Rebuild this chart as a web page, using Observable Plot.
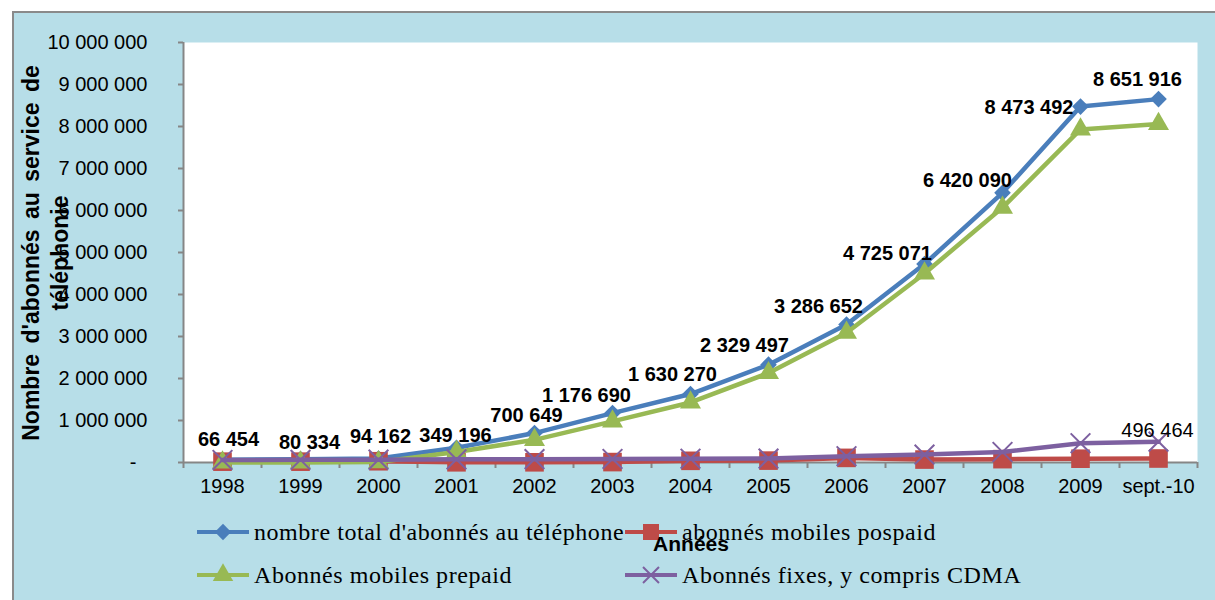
<!DOCTYPE html>
<html><head><meta charset="utf-8">
<script src="https://cdn.jsdelivr.net/npm/d3@7"></script>
<script src="https://cdn.jsdelivr.net/npm/@observablehq/plot@0.6"></script>
<style>
html,body{margin:0;padding:0;background:#fff;width:1215px;height:600px;overflow:hidden;font-family:"Liberation Sans",Arial,sans-serif;}
#frame{position:absolute;left:12px;top:11px;width:1215px;height:600px;background:#B7DEE8;border-left:2px solid #8a8a8a;border-top:2px solid #8a8a8a;}
#chart{position:absolute;left:0;top:0;}
#ytitle{position:absolute;left:-164px;top:224px;width:420px;height:58px;transform:rotate(-90deg);transform-origin:50% 50%;text-align:center;font-weight:bold;font-size:23px;line-height:28.5px;word-spacing:4px;color:#000;white-space:nowrap;}
#xtitle{position:absolute;left:631px;top:529px;width:120px;text-align:center;font-weight:bold;font-size:21px;line-height:30px;color:#000;}
.leg{position:absolute;height:30px;}
.leg svg{position:absolute;left:0;top:0;}
.leg span{position:absolute;top:0;line-height:30px;white-space:nowrap;font-family:"Liberation Serif","Times New Roman",serif;font-size:24px;letter-spacing:0.55px;color:#000;}
</style></head><body>
<div id="frame"></div>
<div id="chart"></div>
<div id="ytitle">Nombre d'abonnés au service de<br>téléphonie</div>
<div id="legend"></div>
<div id="xtitle">Années</div>
<script>
// ---- data ----
const categories = ["1998","1999","2000","2001","2002","2003","2004","2005","2006","2007","2008","2009","sept.-10"];
const totalSubscribers = [66454, 80334, 94162, 349196, 700649, 1176690, 1630270, 2329497, 3286652, 4725071, 6420090, 8473492, 8651916];
const postpaidMobile = [20000, 20000, 30000, 5000, 5000, 10000, 40000, 45000, 110000, 70000, 80000, 90000, 95000];
const prepaidMobile = [0, 0, 10000, 250000, 540000, 980000, 1430000, 2130000, 3090000, 4500000, 6070000, 7930000, 8060000];
const fixedInclCDMA = [60000, 65000, 68000, 75000, 80000, 85000, 90000, 95000, 150000, 190000, 250000, 460000, 496464];
const yTickValues = [0, 1000000, 2000000, 3000000, 4000000, 5000000, 6000000, 7000000, 8000000, 9000000, 10000000];
const seriesNames = ["nombre total d'abonnés au téléphone", "abonnés mobiles pospaid", "Abonnés mobiles prepaid", "Abonnés fixes, y compris CDMA"];

// ---- rendering ----
const fmt = d3.formatLocale({decimal: ",", thousands: " ", grouping: [3], currency: ["", ""]}).format(",d");
const rows = categories.map((c, i) => ({i, c, total: totalSubscribers[i], post: postpaidMobile[i], pre: prepaidMobile[i], fixed: fixedInclCDMA[i]}));
const W = 1215, H = 510, ML = 183, MR = 18, MT = 42, MB = 48;
const n = categories.length;
const xStep = (W - ML - MR) / n;
const yPerUnit = (H - MT - MB) / 10000000;
const gray = "#868686";
const C = {total: "#4A7EBB", post: "#BE4B48", pre: "#98B954", fixed: "#7D60A0"};
const bounds = d3.range(n + 1).map(k => k - 0.5);
// label nudges (pixels) for total-series labels, as placed in the original
const nudge = [[6,-20],[9,-17],[2,-22],[-1,-12],[-8,-17],[-26,-17],[-18,-19],[-24,-19],[-28,-18],[-37,-10],[-35,-12],[-7,1],[-21,-20]];

const labelMarks = rows.map((r, k) => Plot.text([r], {
  x: "i", y: "total", text: d => fmt(d.total), fontWeight: "bold", fontSize: 20,
  textAnchor: k === 11 ? "end" : "middle", dx: nudge[k][0], dy: nudge[k][1]
}));

const chart = Plot.plot({
  width: W, height: H,
  marginLeft: ML, marginRight: MR, marginTop: MT, marginBottom: MB,
  x: {type: "linear", domain: [-0.5, n - 0.5], axis: null},
  y: {type: "linear", domain: [0, 10000000], axis: null},
  style: {background: "transparent", fontFamily: "'Liberation Sans', Arial, sans-serif", overflow: "visible", color: "#000"},
  marks: [
    Plot.frame({fill: "white", stroke: "none"}),
    Plot.ruleX([-0.5], {y1: 0, y2: 10000000, stroke: gray, strokeWidth: 2}),
    Plot.ruleY(yTickValues, {y: d => d, x1: -0.5 - 5 / xStep, x2: -0.5, stroke: gray, strokeWidth: 2}),
    Plot.ruleY([0], {x1: -0.5, x2: n - 0.5, stroke: gray, strokeWidth: 2}),
    Plot.ruleX(bounds, {x: d => d, y1: 0, y2: -6 / yPerUnit, stroke: gray, strokeWidth: 2}),
    Plot.text(yTickValues, {y: d => d, frameAnchor: "left", textAnchor: "end", dx: -36, fontSize: 20, text: d => d === 0 ? "-\u00a0\u00a0" : fmt(d)}),
    Plot.text(rows, {x: "i", frameAnchor: "bottom", dy: 30, fontSize: 20, text: "c"}),
    // total
    Plot.line(rows, {x: "i", y: "total", stroke: C.total, strokeWidth: 4.5}),
    Plot.dot(rows, {x: "i", y: "total", symbol: "diamond2", r: 7.5, fill: C.total}),
    // postpaid
    Plot.line(rows, {x: "i", y: "post", stroke: C.post, strokeWidth: 4.5}),
    Plot.dot(rows, {x: "i", y: "post", symbol: "square", r: 10.5, fill: C.post}),
    // prepaid
    Plot.line(rows, {x: "i", y: "pre", stroke: C.pre, strokeWidth: 4.5}),
    Plot.dot(rows, {x: "i", y: "pre", symbol: "triangle", r: 7.8, fill: C.pre}),
    // fixed
    Plot.line(rows, {x: "i", y: "fixed", stroke: C.fixed, strokeWidth: 4.5}),
    Plot.dot(rows, {x: "i", y: "fixed", symbol: "times", r: 9, stroke: C.fixed, strokeWidth: 2}),
    ...labelMarks,
    Plot.text(rows.slice(-1), {x: "i", y: "fixed", text: d => fmt(d.fixed), fontSize: 20, dx: -1, dy: -11})
  ]
});
document.getElementById("chart").appendChild(chart);

// ---- legend (HTML) ----
const legendItems = [
  {name: seriesNames[0], color: C.total, sym: "diamond", left: 196, top: 517},
  {name: seriesNames[1], color: C.post, sym: "square", left: 624, top: 517},
  {name: seriesNames[2], color: C.pre, sym: "triangle", left: 196, top: 560},
  {name: seriesNames[3], color: C.fixed, sym: "times", left: 624, top: 560}
];
const legend = document.getElementById("legend");
const ns = "http://www.w3.org/2000/svg";
legendItems.forEach(it => {
  const d = document.createElement("div");
  d.className = "leg";
  d.style.left = it.left + "px"; d.style.top = it.top + "px";
  const s = document.createElementNS(ns, "svg");
  s.setAttribute("width", 56); s.setAttribute("height", 30);
  const ln = document.createElementNS(ns, "line");
  ln.setAttribute("x1", 1); ln.setAttribute("x2", 53); ln.setAttribute("y1", 15); ln.setAttribute("y2", 15);
  ln.setAttribute("stroke", it.color); ln.setAttribute("stroke-width", 4);
  s.appendChild(ln);
  const p = document.createElementNS(ns, "path");
  const symType = {diamond: d3.symbolDiamond2, square: d3.symbolSquare, triangle: d3.symbolTriangle, times: d3.symbolTimes}[it.sym];
  const size = {diamond: 170, square: 256, triangle: 180, times: 168}[it.sym];
  p.setAttribute("d", d3.symbol(symType, size)());
  p.setAttribute("transform", "translate(27,15)");
  if (it.sym === "times") { p.setAttribute("fill", "none"); p.setAttribute("stroke", it.color); p.setAttribute("stroke-width", 2); }
  else p.setAttribute("fill", it.color);
  s.appendChild(p);
  d.appendChild(s);
  const t = document.createElement("span");
  t.style.left = "58px";
  t.textContent = it.name;
  d.appendChild(t);
  legend.appendChild(d);
});
</script>
</body></html>
